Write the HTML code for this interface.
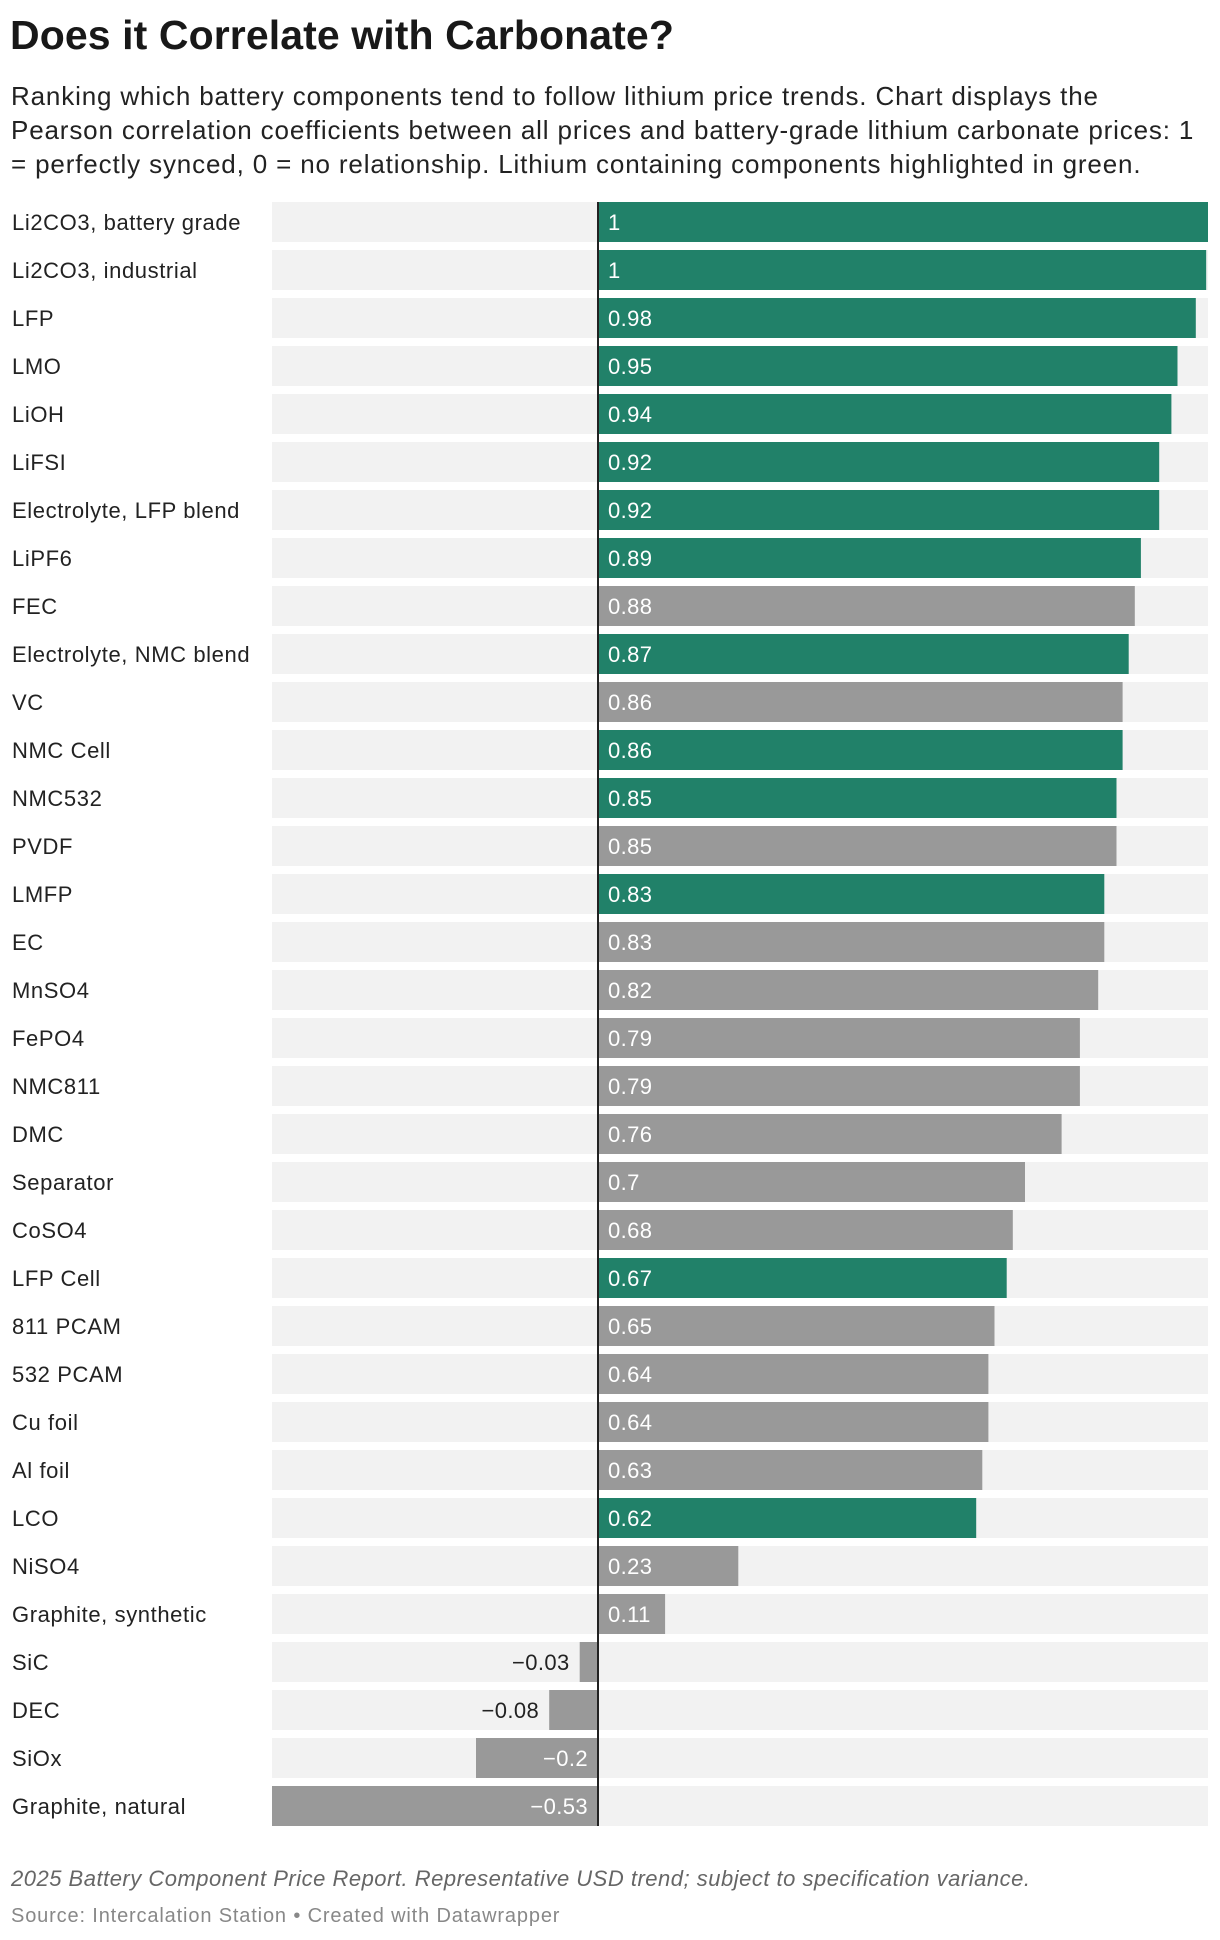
<!DOCTYPE html>
<html><head><meta charset="utf-8">
<style>
body{margin:0;background:#fff;width:1220px;height:1940px;overflow:hidden;font-family:"Liberation Sans",sans-serif;color:#181818}
h1{position:absolute;left:10px;top:12px;margin:0;font-size:41px;font-weight:bold;letter-spacing:0.1px;white-space:nowrap}
.sub{position:absolute;left:11px;top:79px;width:1210px;font-size:26px;letter-spacing:0.85px;line-height:34px;color:#222;margin:0;white-space:nowrap}
.note{position:absolute;left:11px;top:1866px;font-size:22px;letter-spacing:0.5px;font-style:italic;color:#666;white-space:nowrap}
.src{position:absolute;left:11px;top:1905px;font-size:20px;letter-spacing:0.85px;color:#888;white-space:nowrap}
svg{position:absolute;left:0;top:0}
</style></head><body>
<h1>Does it Correlate with Carbonate?</h1>
<p class="sub">Ranking which battery components tend to follow lithium price trends. Chart displays the<br>Pearson correlation coefficients between all prices and battery-grade lithium carbonate prices: 1<br>= perfectly synced, 0 = no relationship. Lithium containing components highlighted in green.</p>
<svg id="chart" width="1220" height="1860"></svg>
<div class="note">2025 Battery Component Price Report. Representative USD trend; subject to specification variance.</div>
<div class="src">Source: Intercalation Station • Created with Datawrapper</div>
<script>
const categories=["Li2CO3, battery grade","Li2CO3, industrial","LFP","LMO","LiOH","LiFSI","Electrolyte, LFP blend","LiPF6","FEC","Electrolyte, NMC blend","VC","NMC Cell","NMC532","PVDF","LMFP","EC","MnSO4","FePO4","NMC811","DMC","Separator","CoSO4","LFP Cell","811 PCAM","532 PCAM","Cu foil","Al foil","LCO","NiSO4","Graphite, synthetic","SiC","DEC","SiOx","Graphite, natural"];
const values=[1,0.997,0.98,0.95,0.94,0.92,0.92,0.89,0.88,0.87,0.86,0.86,0.85,0.85,0.83,0.83,0.82,0.79,0.79,0.76,0.7,0.68,0.67,0.65,0.64,0.64,0.63,0.62,0.23,0.11,-0.03,-0.08,-0.2,-0.535];
const labels=["1","1","0.98","0.95","0.94","0.92","0.92","0.89","0.88","0.87","0.86","0.86","0.85","0.85","0.83","0.83","0.82","0.79","0.79","0.76","0.7","0.68","0.67","0.65","0.64","0.64","0.63","0.62","0.23","0.11","−0.03","−0.08","−0.2","−0.53"];
const lithium=[1,1,1,1,1,1,1,1,0,1,0,1,1,0,1,0,0,0,0,0,0,0,1,0,0,0,0,1,0,0,0,0,0,0];
const NS="http://www.w3.org/2000/svg";
const svg=document.getElementById('chart');
const x0=598,unit=610,trackL=272,trackR=1208,top0=202,pitch=48,bh=40;
function x(v){return x0+v*unit;}
function y(i){return top0+i*pitch;}
function mk(t,a){const e=document.createElementNS(NS,t);for(const k in a)e.setAttribute(k,a[k]);svg.appendChild(e);return e;}
categories.forEach((c,i)=>{
  const tr=mk('rect',{x:trackL,y:y(i),width:trackR-trackL,height:bh,fill:'#f2f2f2'});
  
  
  const lb=mk('text',{x:12,y:y(i)+28,'font-size':22,'letter-spacing':0.6,fill:'#222'});
  lb.textContent=c;
  
  
  const v=values[i];
  const b=mk('rect',{x:Math.max(trackL,Math.min(x(0),x(v))),y:y(i),width:Math.abs(Math.max(trackL,x(v))-x(0)),height:bh,fill:lithium[i]?'#218169':'#999999'});
  
  
  let tx,anchor,col;
  if(v>=0){tx=x(0)+10;anchor='start';col='#fff';}
  else if(x(0)-x(v)>60){tx=x(0)-10;anchor='end';col='#fff';}
  else{tx=x(v)-10;anchor='end';col='#222';}
  const vl=mk('text',{x:tx,y:y(i)+28,'font-size':22,'letter-spacing':0.4,fill:col,'text-anchor':anchor});
  vl.textContent=labels[i];
  
  
});
const zl=mk('line',{x1:x(0),x2:x(0),y1:top0,y2:y(categories.length-1)+bh,stroke:'#222','stroke-width':2});


</script>
</body></html>
